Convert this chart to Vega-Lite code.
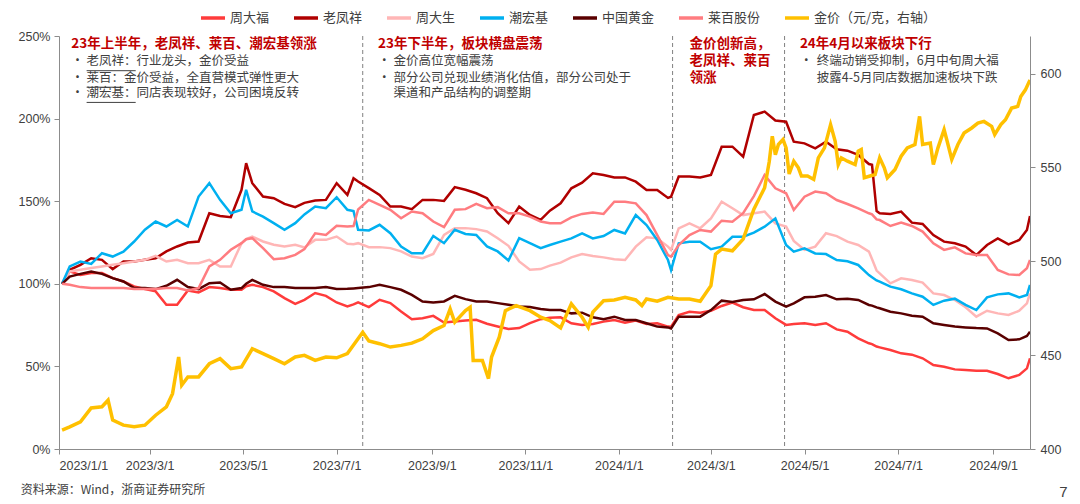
{
"$schema":"https://vega.github.io/schema/vega-lite/v6.json",
"width":971,"height":413,
"autosize":{"type":"none"},
"padding":{"left":59,"top":36,"right":50,"bottom":55},
"background":"white",
"config":{"view":{"stroke":null},"font":"Liberation Sans","axis":{"labelFont":"Liberation Sans","labelFontSize":12.5,"labelColor":"#404040","domainColor":"#8c8c8c","tickColor":"#8c8c8c","grid":false,"title":null}},
"datasets":{
"stocks":[
{"date":"2023-01-03","周大福":1,"老凤祥":1,"周大生":1,"潮宏基":1,"中国黄金":1,"莱百股份":1},
{"date":"2023-01-08","周大福":1.075,"老凤祥":1.085,"周大生":1.075,"潮宏基":1.105,"中国黄金":1.044,"莱百股份":0.994},
{"date":"2023-01-15","周大福":1.054,"老凤祥":1.115,"周大生":1.085,"潮宏基":1.135,"中国黄金":1.06,"莱百股份":0.98},
{"date":"2023-01-22","周大福":1.065,"老凤祥":1.155,"周大生":1.095,"潮宏基":1.12,"中国黄金":1.075,"莱百股份":0.974},
{"date":"2023-01-29","周大福":1.065,"老凤祥":1.145,"周大生":1.105,"潮宏基":1.185,"中国黄金":1.06,"莱百股份":0.974},
{"date":"2023-02-05","周大福":1.034,"老凤祥":1.089,"周大生":1.115,"潮宏基":1.165,"中国黄金":1.034,"莱百股份":0.974},
{"date":"2023-02-12","周大福":1.014,"老凤祥":1.135,"周大生":1.125,"潮宏基":1.195,"中国黄金":1.014,"莱百股份":0.974},
{"date":"2023-02-19","周大福":0.984,"老凤祥":1.135,"周大生":1.135,"潮宏基":1.256,"中国黄金":0.974,"莱百股份":0.968},
{"date":"2023-02-26","周大福":0.968,"老凤祥":1.145,"周大生":1.145,"潮宏基":1.327,"中国黄金":0.974,"莱百股份":0.968},
{"date":"2023-03-05","周大福":0.954,"老凤祥":1.155,"周大生":1.169,"潮宏基":1.377,"中国黄金":0.968,"莱百股份":0.968},
{"date":"2023-03-12","周大福":0.873,"老凤祥":1.196,"周大生":1.135,"潮宏基":1.347,"中国黄金":0.988,"莱百股份":0.974},
{"date":"2023-03-19","周大福":0.873,"老凤祥":1.226,"周大生":1.145,"潮宏基":1.387,"中国黄金":1.024,"莱百股份":0.974},
{"date":"2023-03-26","周大福":0.96,"老凤祥":1.25,"周大生":1.125,"潮宏基":1.347,"中国黄金":0.98,"莱百股份":0.96},
{"date":"2023-04-02","周大福":0.948,"老凤祥":1.256,"周大生":1.125,"潮宏基":1.528,"中国黄金":0.968,"莱百股份":0.974},
{"date":"2023-04-09","周大福":0.98,"老凤祥":1.427,"周大生":1.145,"潮宏基":1.609,"中国黄金":1.004,"莱百股份":1.105},
{"date":"2023-04-16","周大福":0.974,"老凤祥":1.411,"周大生":1.105,"潮宏基":1.508,"中国黄金":1.008,"莱百股份":1.145},
{"date":"2023-04-23","周大福":0.964,"老凤祥":1.403,"周大生":1.105,"潮宏基":1.427,"中国黄金":0.964,"莱百股份":1.206},
{"date":"2023-04-30","周大福":0.964,"老凤祥":1.569,"周大生":1.246,"潮宏基":1.448,"中国黄金":0.974,"莱百股份":1.246},
{"date":"2023-05-03","周大福":0.985,"老凤祥":1.73,"周大生":1.27,"潮宏基":1.569,"中国黄金":1.0,"莱百股份":1.27},
{"date":"2023-05-07","周大福":0.994,"老凤祥":1.609,"周大生":1.286,"潮宏基":1.438,"中国黄金":1.024,"莱百股份":1.276},
{"date":"2023-05-14","周大福":0.98,"老凤祥":1.528,"周大生":1.256,"潮宏基":1.407,"中国黄金":0.994,"莱百股份":1.216},
{"date":"2023-05-21","周大福":0.954,"老凤祥":1.518,"周大生":1.236,"潮宏基":1.367,"中国黄金":0.98,"莱百股份":1.149},
{"date":"2023-05-28","周大福":0.913,"老凤祥":1.484,"周大生":1.226,"潮宏基":1.327,"中国黄金":0.98,"莱百股份":1.155},
{"date":"2023-06-04","周大福":0.879,"老凤祥":1.464,"周大生":1.236,"潮宏基":1.367,"中国黄金":0.974,"莱百股份":1.175},
{"date":"2023-06-10","周大福":0.903,"老凤祥":1.49,"周大生":1.22,"潮宏基":1.42,"中国黄金":0.974,"莱百股份":1.21},
{"date":"2023-06-17","周大福":0.944,"老凤祥":1.504,"周大生":1.266,"潮宏基":1.468,"中国黄金":0.974,"莱百股份":1.306},
{"date":"2023-06-24","周大福":0.927,"老凤祥":1.508,"周大生":1.266,"潮宏基":1.458,"中国黄金":0.98,"莱百股份":1.296},
{"date":"2023-07-01","周大福":0.887,"老凤祥":1.609,"周大生":1.286,"潮宏基":1.524,"中国黄金":0.968,"莱百股份":1.351},
{"date":"2023-07-08","周大福":0.863,"老凤祥":1.538,"周大生":1.242,"潮宏基":1.448,"中国黄金":0.97,"莱百股份":1.347},
{"date":"2023-07-12","周大福":0.875,"老凤祥":1.639,"周大生":1.24,"潮宏基":1.44,"中国黄金":0.972,"莱百股份":1.35},
{"date":"2023-07-15","周大福":0.887,"老凤祥":1.619,"周大生":1.246,"潮宏基":1.327,"中国黄金":0.974,"莱百股份":1.45},
{"date":"2023-07-22","周大福":0.859,"老凤祥":1.579,"周大生":1.222,"潮宏基":1.323,"中国黄金":0.98,"莱百股份":1.508},
{"date":"2023-07-29","周大福":0.903,"老凤祥":1.538,"周大生":1.222,"潮宏基":1.357,"中国黄金":0.994,"莱百股份":1.478},
{"date":"2023-08-05","周大福":0.883,"老凤祥":1.468,"周大生":1.216,"潮宏基":1.306,"中国黄金":0.98,"莱百股份":1.448},
{"date":"2023-08-12","周大福":0.833,"老凤祥":1.468,"周大生":1.196,"潮宏基":1.226,"中国黄金":0.964,"莱百股份":1.397},
{"date":"2023-08-19","周大福":0.786,"老凤祥":1.452,"周大生":1.165,"潮宏基":1.185,"中国黄金":0.933,"莱百股份":1.438},
{"date":"2023-08-26","周大福":0.792,"老凤祥":1.508,"周大生":1.155,"潮宏基":1.185,"中国黄金":0.893,"莱百股份":1.427},
{"date":"2023-09-02","周大福":0.806,"老凤祥":1.508,"周大生":1.181,"潮宏基":1.29,"中国黄金":0.887,"莱百股份":1.377},
{"date":"2023-09-09","周大福":0.766,"老凤祥":1.502,"周大生":1.296,"潮宏基":1.246,"中国黄金":0.893,"莱百股份":1.343},
{"date":"2023-09-16","周大福":0.772,"老凤祥":1.585,"周大生":1.337,"潮宏基":1.327,"中国黄金":0.927,"莱百股份":1.448},
{"date":"2023-09-23","周大福":0.778,"老凤祥":1.569,"周大生":1.337,"潮宏基":1.302,"中国黄金":0.907,"莱百股份":1.452},
{"date":"2023-09-30","周大福":0.782,"老凤祥":1.548,"周大生":1.331,"潮宏基":1.296,"中国黄金":0.893,"莱百股份":1.484},
{"date":"2023-10-07","周大福":0.758,"老凤祥":1.518,"周大生":1.317,"潮宏基":1.226,"中国黄金":0.893,"莱百股份":1.458},
{"date":"2023-10-14","周大福":0.742,"老凤祥":1.427,"周大生":1.276,"潮宏基":1.196,"中国黄金":0.883,"莱百股份":1.464},
{"date":"2023-10-21","周大福":0.726,"老凤祥":1.367,"周大生":1.23,"潮宏基":1.141,"中国黄金":0.873,"莱百股份":1.427},
{"date":"2023-10-28","周大福":0.732,"老凤祥":1.468,"周大生":1.135,"潮宏基":1.276,"中国黄金":0.863,"莱百股份":1.427},
{"date":"2023-11-04","周大福":0.762,"老凤祥":1.417,"周大生":1.085,"潮宏基":1.246,"中国黄金":0.859,"莱百股份":1.407},
{"date":"2023-11-11","周大福":0.786,"老凤祥":1.387,"周大生":1.089,"潮宏基":1.216,"中国黄金":0.847,"莱百股份":1.377},
{"date":"2023-11-17","周大福":0.795,"老凤祥":1.443,"周大生":1.11,"潮宏基":1.235,"中国黄金":0.841,"莱百股份":1.366},
{"date":"2023-11-24","周大福":0.797,"老凤祥":1.487,"周大生":1.128,"潮宏基":1.255,"中国黄金":0.841,"莱百股份":1.366},
{"date":"2023-12-01","周大福":0.761,"老凤祥":1.578,"周大生":1.16,"潮宏基":1.275,"中国黄金":0.821,"莱百股份":1.402},
{"date":"2023-12-08","周大福":0.751,"老凤祥":1.612,"周大生":1.18,"潮宏基":1.305,"中国黄金":0.825,"莱百股份":1.423},
{"date":"2023-12-15","周大福":0.757,"老凤祥":1.669,"周大生":1.168,"潮宏基":1.275,"中国黄金":0.797,"莱百股份":1.431},
{"date":"2023-12-22","周大福":0.771,"老凤祥":1.659,"周大生":1.16,"潮宏基":1.289,"中国黄金":0.785,"莱百股份":1.423},
{"date":"2023-12-29","周大福":0.781,"老凤祥":1.644,"周大生":1.148,"潮宏基":1.326,"中国黄金":0.801,"莱百股份":1.497},
{"date":"2024-01-05","周大福":0.765,"老凤祥":1.644,"周大生":1.144,"潮宏基":1.305,"中国黄金":0.781,"莱百股份":1.497},
{"date":"2024-01-12","周大福":0.777,"老凤祥":1.618,"周大生":1.225,"潮宏基":1.416,"中国黄金":0.781,"莱百股份":1.487},
{"date":"2024-01-19","周大福":0.757,"老凤祥":1.568,"周大生":1.281,"潮宏基":1.356,"中国黄金":0.761,"莱百股份":1.416},
{"date":"2024-01-26","周大福":0.761,"老凤祥":1.568,"周大生":1.275,"潮宏基":1.265,"中国黄金":0.741,"莱百股份":1.295},
{"date":"2024-02-02","周大福":0.741,"老凤祥":1.52,"周大生":1.225,"潮宏基":1.144,"中国黄金":0.736,"莱百股份":1.174},
{"date":"2024-02-04","周大福":0.74,"老凤祥":1.527,"周大生":1.205,"潮宏基":1.083,"中国黄金":0.73,"莱百股份":1.164},
{"date":"2024-02-09","周大福":0.811,"老凤祥":1.649,"周大生":1.336,"潮宏基":1.245,"中国黄金":0.801,"莱百股份":1.235},
{"date":"2024-02-16","周大福":0.831,"老凤祥":1.649,"周大生":1.366,"潮宏基":1.255,"中国黄金":0.801,"莱百股份":1.295},
{"date":"2024-02-23","周大福":0.825,"老凤祥":1.644,"周大生":1.336,"潮宏基":1.255,"中国黄金":0.801,"莱百股份":1.326},
{"date":"2024-03-01","周大福":0.837,"老凤祥":1.659,"周大生":1.396,"潮宏基":1.209,"中国黄金":0.841,"莱百股份":1.316},
{"date":"2024-03-08","周大福":0.866,"老凤祥":1.83,"周大生":1.497,"潮宏基":1.225,"中国黄金":0.898,"莱百股份":1.382},
{"date":"2024-03-15","周大福":0.886,"老凤祥":1.83,"周大生":1.457,"潮宏基":1.285,"中国黄金":0.89,"莱百股份":1.376},
{"date":"2024-03-22","周大福":0.858,"老凤祥":1.77,"周大生":1.416,"潮宏基":1.285,"中国黄金":0.902,"莱百股份":1.427},
{"date":"2024-03-29","周大福":0.841,"老凤祥":2.022,"周大生":1.427,"潮宏基":1.31,"中国黄金":0.906,"莱百股份":1.531},
{"date":"2024-04-05","周大福":0.841,"老凤祥":2.042,"周大生":1.437,"潮宏基":1.346,"中国黄金":0.938,"莱百股份":1.659},
{"date":"2024-04-12","周大福":0.791,"老凤祥":1.988,"周大生":1.366,"潮宏基":1.396,"中国黄金":0.892,"莱百股份":1.578},
{"date":"2024-04-19","周大福":0.751,"老凤祥":1.981,"周大生":1.346,"潮宏基":1.235,"中国黄金":0.862,"莱百股份":1.548},
{"date":"2024-04-24","周大福":0.757,"老凤祥":1.86,"周大生":1.26,"潮宏基":1.195,"中国黄金":0.882,"莱百股份":1.447},
{"date":"2024-05-01","周大福":0.761,"老凤祥":1.85,"周大生":1.205,"潮宏基":1.215,"中国黄金":0.918,"莱百股份":1.527},
{"date":"2024-05-08","周大福":0.751,"老凤祥":1.82,"周大生":1.225,"潮宏基":1.184,"中国黄金":0.922,"莱百股份":1.558},
{"date":"2024-05-15","周大福":0.761,"老凤祥":1.86,"周大生":1.306,"潮宏基":1.18,"中国黄金":0.932,"莱百股份":1.548},
{"date":"2024-05-22","周大福":0.724,"老凤祥":1.814,"周大生":1.289,"潮宏基":1.144,"中国黄金":0.906,"莱百股份":1.507},
{"date":"2024-05-29","周大福":0.71,"老凤祥":1.806,"周大生":1.255,"潮宏基":1.136,"中国黄金":0.91,"莱百股份":1.483},
{"date":"2024-06-05","周大福":0.67,"老凤祥":1.78,"周大生":1.235,"潮宏基":1.114,"中国黄金":0.902,"莱百股份":1.457},
{"date":"2024-06-12","周大福":0.64,"老凤祥":1.725,"周大生":1.195,"潮宏基":1.053,"中国黄金":0.872,"莱百股份":1.427},
{"date":"2024-06-14","周大福":0.635,"老凤祥":1.72,"周大生":1.15,"潮宏基":1.04,"中国黄金":0.868,"莱百股份":1.42},
{"date":"2024-06-17","周大福":0.62,"老凤祥":1.44,"周大生":1.08,"潮宏基":1.02,"中国黄金":0.857,"莱百股份":1.39},
{"date":"2024-06-19","周大福":0.615,"老凤祥":1.427,"周大生":1.063,"潮宏基":1.013,"中国黄金":0.852,"莱百股份":1.386},
{"date":"2024-06-26","周大福":0.599,"老凤祥":1.423,"周大生":1.003,"潮宏基":0.983,"中国黄金":0.831,"莱百股份":1.35},
{"date":"2024-07-03","周大福":0.579,"老凤祥":1.437,"周大生":1.033,"潮宏基":0.967,"中国黄金":0.821,"莱百股份":1.37},
{"date":"2024-07-10","周大福":0.571,"老凤祥":1.37,"周大生":1.023,"潮宏基":0.942,"中国黄金":0.807,"莱百股份":1.35},
{"date":"2024-07-17","周大福":0.549,"老凤祥":1.362,"周大生":1.007,"潮宏基":0.922,"中国黄金":0.801,"莱百股份":1.316},
{"date":"2024-07-24","周大福":0.508,"老凤祥":1.295,"周大生":0.942,"潮宏基":0.872,"中国黄金":0.761,"莱百股份":1.245},
{"date":"2024-07-31","周大福":0.498,"老凤祥":1.255,"周大生":0.932,"潮宏基":0.898,"中国黄金":0.751,"莱百股份":1.205},
{"date":"2024-08-07","周大福":0.482,"老凤祥":1.245,"周大生":0.902,"潮宏基":0.91,"中国黄金":0.741,"莱百股份":1.221},
{"date":"2024-08-14","周大福":0.478,"老凤祥":1.225,"周大生":0.858,"潮宏基":0.872,"中国黄金":0.736,"莱百股份":1.184},
{"date":"2024-08-21","周大福":0.474,"老凤祥":1.174,"周大生":0.801,"潮宏基":0.841,"中国黄金":0.732,"莱百股份":1.174},
{"date":"2024-08-28","周大福":0.474,"老凤祥":1.235,"周大生":0.837,"潮宏基":0.918,"中国黄金":0.73,"莱百股份":1.174},
{"date":"2024-09-04","周大福":0.454,"老凤祥":1.275,"周大生":0.821,"潮宏基":0.936,"中国黄金":0.7,"莱百股份":1.084},
{"date":"2024-09-11","周大福":0.428,"老凤祥":1.239,"周大生":0.811,"潮宏基":0.942,"中国黄金":0.66,"莱百股份":1.057},
{"date":"2024-09-18","周大福":0.448,"老凤祥":1.265,"周大生":0.837,"潮宏基":0.918,"中国黄金":0.664,"莱百股份":1.053},
{"date":"2024-09-23","周大福":0.488,"老凤祥":1.326,"周大生":0.882,"潮宏基":0.932,"中国黄金":0.684,"莱百股份":1.094},
{"date":"2024-09-25","周大福":0.549,"老凤祥":1.41,"周大生":0.942,"潮宏基":0.993,"中国黄金":0.71,"莱百股份":1.144}
],
"gold":[
{"date":"2023-01-03","g":410.1},{"date":"2023-01-08","g":411.8},{"date":"2023-01-15","g":414.5},{"date":"2023-01-22","g":421.9},{"date":"2023-01-29","g":422.5},{"date":"2023-02-02","g":426.0},{"date":"2023-02-05","g":415.4},{"date":"2023-02-12","g":412.7},{"date":"2023-02-19","g":411.8},{"date":"2023-02-26","g":412.7},{"date":"2023-03-05","g":418.0},{"date":"2023-03-12","g":422.5},{"date":"2023-03-16","g":429.5},{"date":"2023-03-20","g":449.0},{"date":"2023-03-22","g":434.0},{"date":"2023-03-26","g":438.4},{"date":"2023-04-02","g":438.4},{"date":"2023-04-09","g":445.4},{"date":"2023-04-16","g":448.1},{"date":"2023-04-23","g":442.8},{"date":"2023-04-30","g":443.7},{"date":"2023-05-07","g":453.4},{"date":"2023-05-14","g":450.8},{"date":"2023-05-21","g":448.1},{"date":"2023-05-28","g":445.4},{"date":"2023-06-04","g":449.0},{"date":"2023-06-10","g":449.9},{"date":"2023-06-17","g":447.2},{"date":"2023-06-24","g":449.0},{"date":"2023-07-01","g":448.6},{"date":"2023-07-08","g":450.8},{"date":"2023-07-18","g":462.2},{"date":"2023-07-22","g":457.5},{"date":"2023-07-29","g":456.1},{"date":"2023-08-05","g":454.3},{"date":"2023-08-12","g":455.2},{"date":"2023-08-19","g":456.4},{"date":"2023-08-26","g":458.7},{"date":"2023-09-02","g":463.1},{"date":"2023-09-09","g":465.8},{"date":"2023-09-13","g":474.6},{"date":"2023-09-16","g":467.5},{"date":"2023-09-23","g":473.7},{"date":"2023-09-26","g":475.5},{"date":"2023-09-28","g":447.2},{"date":"2023-10-04","g":447.2},{"date":"2023-10-08","g":437.5},{"date":"2023-10-10","g":449.0},{"date":"2023-10-15","g":459.6},{"date":"2023-10-19","g":473.7},{"date":"2023-10-26","g":476.4},{"date":"2023-11-04","g":473.7},{"date":"2023-11-11","g":470.2},{"date":"2023-11-17","g":468.4},{"date":"2023-11-24","g":464.5},{"date":"2023-12-01","g":477.3},{"date":"2023-12-08","g":470.2},{"date":"2023-12-12","g":464.9},{"date":"2023-12-15","g":472.9},{"date":"2023-12-22","g":479.0},{"date":"2023-12-29","g":479.4},{"date":"2024-01-05","g":480.8},{"date":"2024-01-12","g":479.4},{"date":"2024-01-16","g":476.4},{"date":"2024-01-19","g":479.9},{"date":"2024-01-26","g":478.7},{"date":"2024-02-02","g":480.8},{"date":"2024-02-09","g":479.9},{"date":"2024-02-16","g":479.9},{"date":"2024-02-23","g":478.7},{"date":"2024-03-01","g":487.0},{"date":"2024-03-04","g":503.8},{"date":"2024-03-08","g":506.5},{"date":"2024-03-15","g":505.6},{"date":"2024-03-22","g":511.8},{"date":"2024-03-29","g":527.7},{"date":"2024-04-05","g":539.2},{"date":"2024-04-08","g":553.0},{"date":"2024-04-10","g":566.6},{"date":"2024-04-12","g":556.8},{"date":"2024-04-14","g":562.2},{"date":"2024-04-17","g":564.8},{"date":"2024-04-19","g":560.4},{"date":"2024-04-21","g":546.5},{"date":"2024-04-24","g":553.3},{"date":"2024-04-27","g":549.8},{"date":"2024-04-29","g":545.4},{"date":"2024-05-03","g":545.4},{"date":"2024-05-07","g":543.6},{"date":"2024-05-10","g":555.1},{"date":"2024-05-14","g":560.4},{"date":"2024-05-18","g":572.8},{"date":"2024-05-21","g":563.9},{"date":"2024-05-23","g":551.5},{"date":"2024-05-25","g":555.1},{"date":"2024-05-29","g":553.3},{"date":"2024-06-03","g":551.5},{"date":"2024-06-05","g":558.6},{"date":"2024-06-07","g":559.5},{"date":"2024-06-09","g":544.5},{"date":"2024-06-16","g":546.2},{"date":"2024-06-19","g":555.1},{"date":"2024-06-22","g":549.8},{"date":"2024-06-24","g":544.5},{"date":"2024-06-29","g":548.9},{"date":"2024-07-03","g":556.0},{"date":"2024-07-07","g":560.4},{"date":"2024-07-12","g":562.2},{"date":"2024-07-15","g":577.2},{"date":"2024-07-17","g":562.2},{"date":"2024-07-22","g":563.0},{"date":"2024-07-24","g":551.5},{"date":"2024-07-27","g":560.4},{"date":"2024-07-31","g":570.1},{"date":"2024-08-02","g":563.9},{"date":"2024-08-05","g":554.2},{"date":"2024-08-09","g":562.2},{"date":"2024-08-13","g":568.3},{"date":"2024-08-18","g":571.0},{"date":"2024-08-22","g":573.6},{"date":"2024-08-26","g":574.5},{"date":"2024-08-31","g":571.9},{"date":"2024-09-02","g":567.5},{"date":"2024-09-06","g":572.8},{"date":"2024-09-09","g":575.4},{"date":"2024-09-13","g":581.6},{"date":"2024-09-17","g":582.5},{"date":"2024-09-19","g":587.8},{"date":"2024-09-22","g":591.3},{"date":"2024-09-25","g":596.6}
],
"vlines":[{"d":"2023-07-18"},{"d":"2024-02-05"},{"d":"2024-04-18"}],
"uls":[
{"d":"2023-01-19","d2":"2023-02-20","v":2.29},
{"d":"2023-01-19","d2":"2023-02-12","v":2.19},
{"d":"2023-01-19","d2":"2023-02-20","v":2.098}
],
"notes":[
{"d":"2023-01-09","v":2.452,"t":"23年上半年，老凤祥、莱百、潮宏基领涨","k":"h"},
{"d":"2023-07-28","v":2.452,"t":"23年下半年，板块横盘震荡","k":"h"},
{"d":"2024-02-16","v":2.452,"t":"金价创新高，","k":"h"},
{"d":"2024-02-16","v":2.347,"t":"老凤祥、莱百","k":"h"},
{"d":"2024-02-16","v":2.246,"t":"领涨","k":"h"},
{"d":"2024-04-28","v":2.452,"t":"24年4月以来板块下行","k":"h"},
{"d":"2023-01-09","v":2.347,"t":"•","k":"b"},
{"d":"2023-01-09","v":2.246,"t":"•","k":"b"},
{"d":"2023-01-09","v":2.152,"t":"•","k":"b"},
{"d":"2023-01-19","v":2.347,"t":"老凤祥：行业龙头，金价受益","k":"b"},
{"d":"2023-01-19","v":2.246,"t":"莱百：金价受益，全直营模式弹性更大","k":"b"},
{"d":"2023-01-19","v":2.152,"t":"潮宏基：同店表现较好，公司困境反转","k":"b"},
{"d":"2023-07-28","v":2.347,"t":"•","k":"b"},
{"d":"2023-07-28","v":2.246,"t":"•","k":"b"},
{"d":"2023-08-07","v":2.347,"t":"金价高位宽幅震荡","k":"b"},
{"d":"2023-08-07","v":2.246,"t":"部分公司兑现业绩消化估值，部分公司处于","k":"b"},
{"d":"2023-08-07","v":2.152,"t":"渠道和产品结构的调整期","k":"b"},
{"d":"2024-04-28","v":2.347,"t":"•","k":"b"},
{"d":"2024-05-09","v":2.347,"t":"终端动销受抑制，6月中旬周大福","k":"b"},
{"d":"2024-05-09","v":2.246,"t":"披露4-5月同店数据加速板块下跌","k":"b"},
{"d":"2022-12-07","v":-0.248,"t":"资料来源：Wind，浙商证券研究所","k":"f"},
{"d":"2024-10-14","v":-0.262,"t":"7","k":"p"}
]
},
"layer":[
{
"layer":[
{"data":{"name":"vlines"},"mark":{"type":"rule","color":"#808080","strokeDash":[4,3],"strokeWidth":1},
"encoding":{"x":{"field":"d","type":"temporal","scale":{"type":"utc","domain":[{"year":2023,"month":1,"date":1,"utc":true},{"year":2024,"month":9,"date":25,"utc":true}]}}}},
{"data":{"name":"stocks"},
"transform":[{"fold":["周大福","老凤祥","周大生","潮宏基","中国黄金","莱百股份"],"as":["name","value"]}],
"mark":{"type":"line","strokeWidth":2.5,"clip":true},
"encoding":{
"x":{"field":"date","type":"temporal","scale":{"type":"utc","domain":[{"year":2023,"month":1,"date":1,"utc":true},{"year":2024,"month":9,"date":25,"utc":true}]},
"axis":{"values":[{"year":2023,"month":1,"date":1,"utc":true},{"year":2023,"month":3,"date":1,"utc":true},{"year":2023,"month":5,"date":1,"utc":true},{"year":2023,"month":7,"date":1,"utc":true},{"year":2023,"month":9,"date":1,"utc":true},{"year":2023,"month":11,"date":1,"utc":true},{"year":2024,"month":1,"date":1,"utc":true},{"year":2024,"month":3,"date":1,"utc":true},{"year":2024,"month":5,"date":1,"utc":true},{"year":2024,"month":7,"date":1,"utc":true},{"year":2024,"month":9,"date":1,"utc":true}],"format":"%Y/%-m/%-d","tickSize":5,"labelPadding":5,"labelFontSize":12.5}},
"y":{"field":"value","type":"quantitative","scale":{"domain":[0,2.5],"nice":false},"axis":{"values":[0,0.5,1,1.5,2,2.5],"format":".0%","tickSize":5,"labelPadding":4}},
"color":{"field":"name","type":"nominal","sort":null,
"scale":{"domain":["周大福","老凤祥","周大生","潮宏基","中国黄金","莱百股份","金价（元/克，右轴）"],"range":["#FF3B3B","#B00000","#FFB6B6","#00B0F0","#5A0000","#FF7C80","#FFC000"]},
"legend":{"orient":"none","legendX":140,"legendY":-32,"direction":"horizontal","symbolType":"stroke","symbolSize":576,"symbolStrokeWidth":3.5,"labelFont":"Noto Sans CJK SC","labelFontSize":13,"labelColor":"#404040","labelOffset":3,"columnPadding":17,"title":null}}
}},
{"data":{"name":"uls"},"mark":{"type":"rule","color":"#404040","strokeWidth":1},
"encoding":{"x":{"field":"d","type":"temporal"},"x2":{"field":"d2"},"y":{"field":"v","type":"quantitative"}}},
{"data":{"name":"notes"},"transform":[{"filter":"datum.k=='h'"}],
"mark":{"type":"text","align":"left","baseline":"middle","font":"Noto Sans CJK SC","fontSize":13.5,"fontWeight":"bold","color":"#C00000"},
"encoding":{"x":{"field":"d","type":"temporal"},"y":{"field":"v","type":"quantitative"},"text":{"field":"t"}}},
{"data":{"name":"notes"},"transform":[{"filter":"datum.k=='b'"}],
"mark":{"type":"text","align":"left","baseline":"middle","font":"Noto Sans CJK SC","fontSize":12.5,"color":"#404040"},
"encoding":{"x":{"field":"d","type":"temporal"},"y":{"field":"v","type":"quantitative"},"text":{"field":"t"}}},
{"data":{"name":"notes"},"transform":[{"filter":"datum.k=='f'"}],
"mark":{"type":"text","align":"left","baseline":"middle","font":"Noto Sans CJK SC","fontSize":12,"color":"#404040"},
"encoding":{"x":{"field":"d","type":"temporal"},"y":{"field":"v","type":"quantitative"},"text":{"field":"t"}}},
{"data":{"name":"notes"},"transform":[{"filter":"datum.k=='p'"}],
"mark":{"type":"text","align":"left","baseline":"middle","font":"Liberation Sans","fontSize":15,"color":"#404040"},
"encoding":{"x":{"field":"d","type":"temporal"},"y":{"field":"v","type":"quantitative"},"text":{"field":"t"}}}
]
},
{"data":{"name":"gold"},
"mark":{"type":"line","strokeWidth":3.5,"clip":true},
"encoding":{
"x":{"field":"date","type":"temporal"},
"y":{"field":"g","type":"quantitative","scale":{"domain":[400,620],"nice":false,"zero":false},"axis":{"orient":"right","values":[400,450,500,550,600],"format":"d","tickSize":5,"labelPadding":5}},
"color":{"datum":"金价（元/克，右轴）"}
}}
],
"resolve":{"scale":{"y":"independent"}}
}
